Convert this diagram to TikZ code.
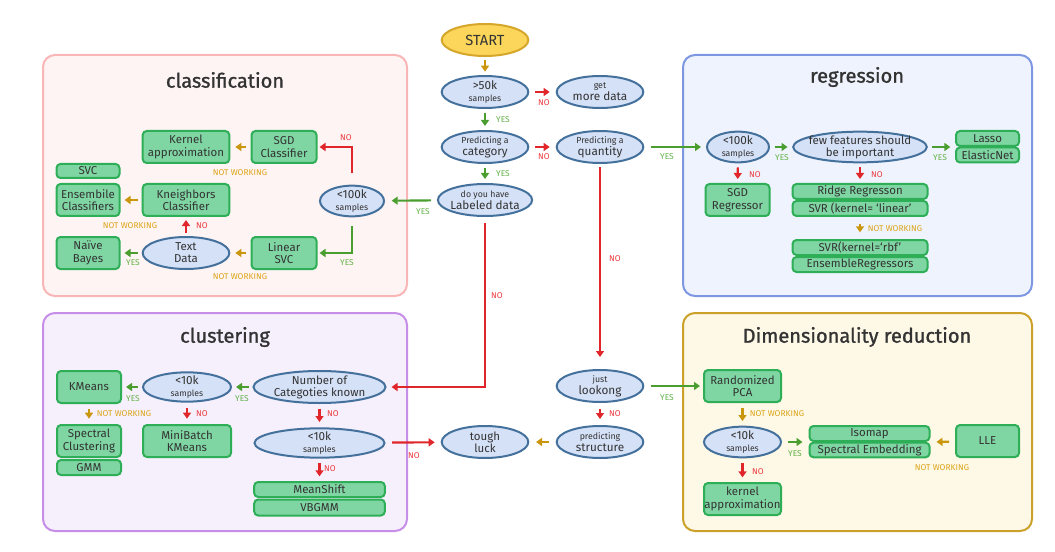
\documentclass[tikz,border=0pt]{standalone}
\usepackage{fontspec}
\setmainfont{Fira Sans}
\newfontfamily\titlefont{Fira Sans}[FakeBold=1.2]
\usetikzlibrary{shapes.geometric, arrows.meta}

\definecolor{boxfill}{HTML}{7FD6A3}
\definecolor{boxline}{HTML}{2DAE57}
\definecolor{ellfill}{HTML}{D5E1F7}
\definecolor{ellline}{HTML}{44709C}
\definecolor{startfill}{HTML}{FCD65B}
\definecolor{startline}{HTML}{D5A62A}
\definecolor{nored}{HTML}{E0262B}
\definecolor{yesgreen}{HTML}{4A9E2F}
\definecolor{nwgold}{HTML}{C9960E}
\definecolor{labred}{HTML}{EC3B3F}
\definecolor{labgreen}{HTML}{62B246}
\definecolor{labgold}{HTML}{DBA519}
\definecolor{txtgray}{HTML}{333333}
\definecolor{clsfill}{HTML}{FFF4F4}
\definecolor{clsline}{HTML}{F8B6B6}
\definecolor{regfill}{HTML}{EFF3FD}
\definecolor{regline}{HTML}{7E97E3}
\definecolor{clufill}{HTML}{F6F0FD}
\definecolor{cluline}{HTML}{C78EE8}
\definecolor{dimfill}{HTML}{FEF8E6}
\definecolor{dimline}{HTML}{CBA12A}

\newcommand{\smalltxt}[1]{{\fontsize{6.6}{8}\selectfont #1}}
\newcommand{\bigtxt}[1]{{\fontsize{8.8}{10}\selectfont #1}}
\newcommand{\samptxt}{{\fontsize{6.5}{8}\selectfont samples}}

\tikzset{
    panel/.style={rounded corners=9pt, line width=1.5pt},
    ptitle/.style={font=\fontsize{15}{18}\selectfont\titlefont, text=txtgray},
    box/.style={draw=boxline, fill=boxfill, line width=1.5pt, rounded corners=3pt,
        align=center, inner sep=0pt, text=txtgray, font=\fontsize{8.6}{9.6}\selectfont},
    ell/.style={ellipse, draw=ellline, fill=ellfill, line width=1.5pt, align=center,
        inner sep=-1pt, text=txtgray, font=\fontsize{8.6}{9}\selectfont},
    noarr/.style={draw=nored, line width=1.6pt, -{Triangle[length=4.5pt,width=6pt]}},
    yesarr/.style={draw=yesgreen, line width=1.6pt, -{Triangle[length=4.5pt,width=6pt]}},
    nwarr/.style={draw=nwgold, line width=1.6pt, -{Triangle[length=4.5pt,width=6pt]}},
    gap/.style={shorten <=#1, shorten >=#1},
    gap/.default=3.5pt,
    nolab/.style={text=labred, font=\fontsize{6.3}{7}\selectfont},
    yeslab/.style={text=labgreen, font=\fontsize{6.3}{7}\selectfont},
    nwlab/.style={text=labgold, font=\fontsize{6.3}{7}\selectfont}
}

\begin{document}
\begin{tikzpicture}[x=0.75pt, y=-0.75pt]
    \useasboundingbox (0,0) rectangle (1055,552);

    % panels
    \draw[panel, draw=clsline, fill=clsfill] (43,55) rectangle (407,296);
    \draw[panel, draw=regline, fill=regfill] (683,55) rectangle (1032,296);
    \draw[panel, draw=cluline, fill=clufill] (43,313) rectangle (407,531);
    \draw[panel, draw=dimline, fill=dimfill] (683,313) rectangle (1032,531);
    \node[ptitle] (tcls) at (225,80) {classification};
    \node[ptitle] (treg) at (857,77) {regression};
    \node[ptitle] (tclu) at (225,337) {clustering};
    \node[ptitle] (tdim) at (857,337) {Dimensionality reduction};

    % main column
    \node[ell, draw=startline, fill=startfill, minimum width=65pt, minimum height=24pt,
        font=\fontsize{11}{12}\selectfont] (start) at (485,40) {START};
    \node[ell, minimum width=65pt, minimum height=24pt] (big) at (485,92) {\bigtxt{>50k}\\\samptxt};
    \node[ell, minimum width=65pt, minimum height=24pt] (more) at (600,92) {\smalltxt{get}\\\bigtxt{more data}};
    \node[ell, minimum width=65pt, minimum height=24pt] (cat) at (485,147) {\smalltxt{Predicting a}\\\bigtxt{category}};
    \node[ell, minimum width=65pt, minimum height=24pt] (qty) at (600,147) {\smalltxt{Predicting a}\\\bigtxt{quantity}};
    \node[ell, minimum width=65pt, minimum height=24pt] (lab) at (485,200) {\smalltxt{do you have}\\\bigtxt{Labeled data}};
    \node[ell, minimum width=65pt, minimum height=24pt] (look) at (600,386) {\smalltxt{just}\\\bigtxt{lookong}};
    \node[ell, minimum width=65pt, minimum height=24pt] (struct) at (600,442) {\smalltxt{predicting}\\\bigtxt{structure}};
    \node[ell, minimum width=65pt, minimum height=24pt] (tough) at (485,442) {tough\\luck};

    \draw[nwarr, gap=2.5pt] (start) -- (big);
    \draw[noarr, gap=4.5pt] (big) -- (more);
    \node[nolab] (lb1) at (544,103) {NO};
    \draw[yesarr, gap=3pt] (big) -- (cat);
    \node[yeslab] (lb2) at (503,120) {YES};
    \draw[noarr, gap=4.5pt] (cat) -- (qty);
    \node[nolab] (lb3) at (544,157) {NO};
    \draw[yesarr, gap=3pt] (cat) -- (lab);
    \node[yeslab] (lb4) at (503,174) {YES};
    \draw[noarr, gap=4.5pt] (look) -- (struct);
    \node[nolab] (lb5) at (615,414) {NO};
    \draw[nwarr, gap=5pt] (struct) -- (tough);

    % classification
    \node[box, minimum width=48.75pt, minimum height=24pt] (sgdc) at (284,147) {SGD\\Classifier};
    \node[box, minimum width=65pt, minimum height=24pt] (kern) at (186,147) {Kernel\\approximation};
    \node[ell, minimum width=48pt, minimum height=23pt] (c100) at (352,201) {\bigtxt{<100k}\\\samptxt};
    \node[box, minimum width=47.25pt, minimum height=10.5pt] (svcc) at (88,171) {SVC};
    \node[box, minimum width=47.25pt, minimum height=24pt] (ens) at (88,200) {Ensembile\\Classifiers};
    \node[box, minimum width=65pt, minimum height=24pt] (knn) at (186,200) {Kneighbors\\Classifier};
    \node[box, minimum width=47.25pt, minimum height=24pt] (nb) at (88,253) {Naïve\\Bayes};
    \node[ell, minimum width=65pt, minimum height=24pt, inner sep=0pt] (text) at (186,253) {Text\\Data};
    \node[box, minimum width=48.75pt, minimum height=24pt] (lsvc) at (284,253) {Linear\\SVC};

    \draw[noarr, shorten <=8.5pt, shorten >=1.5pt] (c100) |- (sgdc);
    \node[nolab] (lb6) at (346,138) {NO};
    \draw[yesarr, shorten <=6.5pt, shorten >=1.5pt] (c100) |- (lsvc);
    \node[yeslab] (lb7) at (347,263) {YES};
    \draw[nwarr, gap=3.75pt] (sgdc) -- (kern);
    \node[nwlab] (lb8) at (240,173) {NOT WORKING};
    \draw[nwarr, gap=3pt] (knn) -- (ens);
    \node[nwlab] (lb9) at (130,226) {NOT WORKING};
    \draw[noarr, gap=2.25pt] (text) -- (knn);
    \node[nolab] (lb10) at (202,226) {NO};
    \draw[yesarr, gap=3pt] (text) -- (nb);
    \node[yeslab] (lb11) at (133,263) {YES};
    \draw[nwarr, gap=3.75pt] (lsvc) -- (text);
    \node[nwlab] (lb12) at (240,277) {NOT WORKING};

    % regression
    \node[ell, minimum width=46.5pt, minimum height=23pt] (r100) at (738,147) {\bigtxt{<100k}\\\samptxt};
    \node[ell, minimum width=100pt, minimum height=23pt, inner sep=-3pt] (few) at (860,147) {few features should\\be important};
    \node[box, minimum width=47.25pt, minimum height=11.25pt] (lasso) at (987.5,138.5) {Lasso};
    \node[box, minimum width=47.25pt, minimum height=11.25pt] (elastic) at (987.5,155) {ElasticNet};
    \node[box, minimum width=48pt, minimum height=24pt] (sgdr) at (737.5,200) {SGD\\Regressor};
    \node[box, minimum width=101.25pt, minimum height=11.25pt] (ridge) at (860,191.5) {Ridge Regresson};
    \node[box, minimum width=101.25pt, minimum height=11.25pt] (svrl) at (860,208.5) {SVR (kernel= ‘linear’};
    \node[box, minimum width=101.25pt, minimum height=11.25pt] (svrr) at (860,247.5) {SVR(kernel=‘rbf’};
    \node[box, minimum width=101.25pt, minimum height=11.25pt] (ensr) at (860,264.5) {EnsembleRegressors};

    \draw[yesarr, gap=3.5pt] (r100) -- (few);
    \node[yeslab] (lb13) at (782,158) {YES};
    \draw[yesarr, gap=3.5pt] (few) -- (lasso.south west);
    \node[yeslab] (lb14) at (940,158) {YES};
    \draw[noarr, gap=3pt] (r100) -- (sgdr);
    \node[nolab] (lb15) at (755,175) {NO};
    \draw[noarr, gap=3pt] (few) -- (ridge);
    \node[nolab] (lb16) at (877,175) {NO};
    \draw[nwarr, gap=5pt] (svrl) -- (svrr);
    \node[nwlab] (lb17) at (895,229) {NOT WORKING};

    % clustering
    \node[ell, minimum width=99pt, minimum height=24pt] (numcat) at (319.5,387) {Number of\\Categoties known};
    \node[ell, minimum width=66pt, minimum height=22pt] (k10) at (187,387) {\bigtxt{<10k}\\\samptxt};
    \node[box, minimum width=48pt, minimum height=24pt] (kmeans) at (89,387) {KMeans};
    \node[box, minimum width=48pt, minimum height=24pt] (spec) at (89,441) {Spectral\\Clustering};
    \node[box, minimum width=48pt, minimum height=11.25pt] (gmm) at (89,467.5) {GMM};
    \node[box, minimum width=66pt, minimum height=24pt] (mbk) at (187,441) {MiniBatch\\KMeans};
    \node[ell, minimum width=97.5pt, minimum height=22pt] (low10) at (319.5,443) {\bigtxt{<10k}\\\samptxt};
    \node[box, minimum width=98pt, minimum height=11.25pt] (mshift) at (319.5,489.5) {MeanShift};
    \node[box, minimum width=98pt, minimum height=12pt] (vbgmm) at (319.5,507.5) {VBGMM};

    \draw[yesarr, gap=3pt] (numcat) -- (k10);
    \node[yeslab] (lb18) at (242,399) {YES};
    \draw[yesarr, gap=3pt] (k10) -- (kmeans);
    \node[yeslab] (lb19) at (133,399) {YES};
    \draw[nwarr, gap=4pt] (kmeans) -- (spec);
    \node[nwlab] (lb20) at (124,414) {NOT WORKING};
    \draw[noarr, gap=4pt] (k10) -- (mbk);
    \node[nolab] (lb21) at (202,414) {NO};
    \draw[noarr, gap=4pt] (numcat) -- (low10);
    \node[nolab] (lb22) at (333,414) {NO};
    \draw[noarr, gap=3.5pt] (low10) -- (mshift);
    \node[nolab] (lb23) at (330,469) {NO};

    % dimensionality reduction
    \node[box, minimum width=57.75pt, minimum height=24pt] (pca) at (742.5,386) {Randomized\\PCA};
    \node[ell, minimum width=57.75pt, minimum height=23pt] (d10) at (742.5,442) {\bigtxt{<10k}\\\samptxt};
    \node[box, minimum width=90pt, minimum height=11.25pt] (iso) at (869.5,433.5) {Isomap};
    \node[box, minimum width=90pt, minimum height=11pt] (semb) at (869.5,450) {Spectral Embedding};
    \node[box, minimum width=47.25pt, minimum height=24pt] (lle) at (987.5,441) {LLE};
    \node[box, minimum width=57.75pt, minimum height=24pt] (kapp) at (742.5,499) {kernel\\approximation};

    \draw[nwarr, gap=3.5pt] (pca) -- (d10);
    \node[nwlab] (lb24) at (777,414) {NOT WORKING};
    \draw[yesarr, gap=4.5pt] (d10) -- (iso.south west);
    \node[yeslab] (lb25) at (795,454) {YES};
    \draw[nwarr, gap=4.5pt] (lle) -- (iso.south east);
    \node[nwlab] (lb26) at (942,468) {NOT WORKING};
    \draw[noarr, gap=3.5pt] (d10) -- (kapp);
    \node[nolab] (lb27) at (758,472) {NO};

    % long connectors
    \draw[yesarr, shorten <=4.5pt, shorten >=5pt] (lab) -- (c100);
    \node[yeslab] (lb28) at (423,212) {YES};
    \draw[noarr, shorten <=4.5pt, shorten >=3.75pt] (lab) |- (numcat);
    \node[nolab] (lb29) at (497,296) {NO};
    \draw[yesarr, shorten <=5pt, shorten >=3.75pt] (qty) -- (r100);
    \node[yeslab] (lb30) at (667,157) {YES};
    \draw[noarr, shorten <=2.5pt, shorten >=9pt] (qty) -- (look);
    \node[nolab] (lb31) at (615,259) {NO};
    \draw[yesarr, shorten <=5pt, shorten >=2.25pt] (look) -- (pca);
    \node[yeslab] (lb32) at (667,398) {YES};
    \draw[noarr, shorten <=5pt, shorten >=4.5pt] (low10) -- (tough);
    \node[nolab] (lb33) at (414,456) {NO};
\end{tikzpicture}
\end{document}
